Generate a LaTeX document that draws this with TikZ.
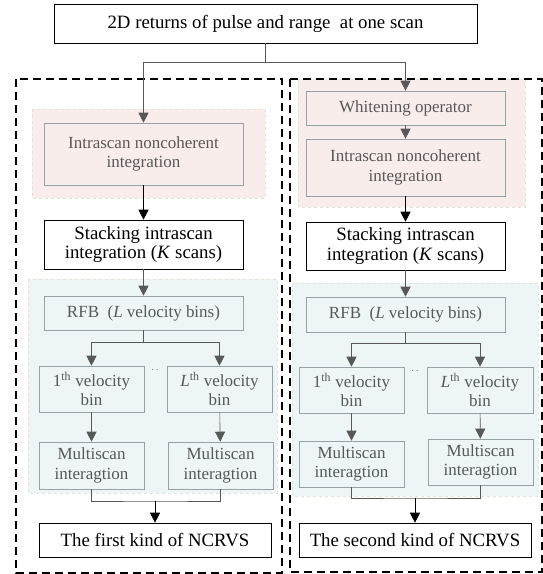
\documentclass[tikz,border=0pt]{standalone}
\usepackage{fontspec}
\setmainfont{Liberation Serif}
\usetikzlibrary{arrows.meta}

\definecolor{zonepink}{RGB}{248,237,235}
\definecolor{zoneblue}{RGB}{237,245,247}
\definecolor{zoneedge}{RGB}{224,230,212}
\definecolor{boxgray}{RGB}{150,162,165}
\definecolor{txtgray}{RGB}{88,88,88}
\definecolor{arrgray}{RGB}{88,88,88}

\tikzset{
  box/.style={draw=black, line width=0.6pt, align=center, inner sep=0pt,
    font=\fontsize{18.8}{19.5}\selectfont},
  gbox/.style={box, draw=boxgray, text=txtgray,
    font=\fontsize{17}{19.5}\selectfont},
  arr/.style={-{Triangle[length=10pt,width=10pt]}, line width=0.6pt},
  garr/.style={arr, draw=arrgray},
  gline/.style={line width=0.6pt, draw=arrgray},
  zone/.style={draw=zoneedge, dashed, line width=0.8pt},
  frame/.style={draw=black, line width=1.4pt, dash pattern=on 8pt off 5pt},
}

\begin{document}
\begin{tikzpicture}[x=1pt, y=-1pt]
  \useasboundingbox (0,0) rectangle (543,574);

  % shaded zones
  \fill[zonepink] (32,109) rectangle (265,198);
  \draw[zone] (32,109) rectangle (265,198);
  \fill[zonepink] (298,79) rectangle (525,207);
  \draw[zone] (298,79) rectangle (525,207);
  \fill[zoneblue] (28,279) rectangle (277,493);
  \draw[zone] (28,279) rectangle (277,493);
  \fill[zoneblue] (292,283) rectangle (538,496);
  \draw[zone] (292,283) rectangle (538,496);

  % outer dashed frames
  \draw[frame] (16,79) rectangle (282,573);
  \draw[frame] (290,79) rectangle (542,572);

  \node[box, minimum width=423pt, minimum height=39pt] (top) at (265.5,23.5)
    {2D returns of pulse and range\ \ at one scan};

  % first kind
  \node[gbox, minimum width=199pt, minimum height=62pt] (lint) at (143.5,154)
    {Intrascan noncoherent\\integration};
  \node[box, minimum width=199pt, minimum height=49pt] (lstack) at (143.5,244.5)
    {Stacking intrascan\\integration (\textit{K} scans)};
  \node[gbox, minimum width=199pt, minimum height=34pt] (lrfb) at (143.5,313)
    {RFB\ \ (\textit{L} velocity bins)};
  \node[gbox, minimum width=105pt, minimum height=46pt] (lv1) at (91.5,389)
    {1\textsuperscript{th} velocity\\bin};
  \node[gbox, minimum width=105pt, minimum height=46pt] (lvL) at (219.5,389)
    {\textit{L}\textsuperscript{th} velocity\\bin};
  \node[text=txtgray] (ldots) at (155,370) {$\cdot\,\cdot$};
  \node[gbox, minimum width=105pt, minimum height=47pt] (lm1) at (91.5,465.5)
    {Multiscan\\interagtion};
  \node[gbox, minimum width=105pt, minimum height=47pt] (lmL) at (220.5,465.5)
    {Multiscan\\interagtion};
  \node[box, minimum width=232pt, minimum height=34pt] (lfin) at (155,540)
    {The first kind of NCRVS};

  % second kind
  \node[gbox, minimum width=199pt, minimum height=34pt] (white) at (405.5,108)
    {Whitening operator};
  \node[gbox, minimum width=199pt, minimum height=57pt] (rint) at (405.5,167.5)
    {Intrascan noncoherent\\integration};
  \node[box, minimum width=199pt, minimum height=48pt] (rstack) at (405.5,246)
    {Stacking intrascan\\integration (\textit{K} scans)};
  \node[gbox, minimum width=199pt, minimum height=35pt] (rrfb) at (405.5,314.5)
    {RFB\ \ (\textit{L} velocity bins)};
  \node[gbox, minimum width=105pt, minimum height=46pt] (rv1) at (351.5,390)
    {1\textsuperscript{th} velocity\\bin};
  \node[gbox, minimum width=106pt, minimum height=46pt] (rvL) at (480,390)
    {\textit{L}\textsuperscript{th} velocity\\bin};
  \node[text=txtgray] (rdots) at (415,371) {$\cdot\,\cdot$};
  \node[gbox, minimum width=105pt, minimum height=46pt] (rm1) at (351.5,464)
    {Multiscan\\interagtion};
  \node[gbox, minimum width=105pt, minimum height=46pt] (rmL) at (480.5,462)
    {Multiscan\\interagtion};
  \node[box, minimum width=232pt, minimum height=34pt] (rfin) at (415,540)
    {The second kind of NCRVS};

  % connectors
  \coordinate (split) at (265.5,62);
  \draw[gline] (top) -- (split);
  \draw[garr] (split) -| (lint);
  \draw[garr] (split) -| (white);

  \draw[arr] (lint) -- (lstack);
  \draw[garr] (lstack) -- (lrfb);
  \coordinate (lfork) at (143.5,342);
  \draw[gline] (lrfb) -- (lfork);
  \draw[garr] (lfork) -| (lv1);
  \draw[garr] (lfork) -| (lvL);
  \draw[garr] (lv1) -- (lm1);
  \draw[garr] (lvL) -- (lmL);
  \coordinate (ljoin) at (155,501);
  \draw[gline] (lm1) |- (ljoin) -| (lmL);
  \draw[arr] (ljoin) -- (lfin);

  \draw[garr] (white) -- (rint);
  \draw[arr] (rint) -- (rstack);
  \draw[garr] (rstack) -- (rrfb);
  \coordinate (rfork) at (405.5,343);
  \draw[gline] (rrfb) -- (rfork);
  \draw[garr] (rfork) -| (rv1);
  \draw[garr] (rfork) -| (rvL);
  \draw[garr] (rv1) -- (rm1);
  \draw[garr] (rvL) -- (rmL);
  \coordinate (rjoin) at (415,498);
  \draw[gline] (rm1) |- (rjoin) -| (rmL);
  \draw[arr] (rjoin) -- (rfin);
\end{tikzpicture}
\end{document}
